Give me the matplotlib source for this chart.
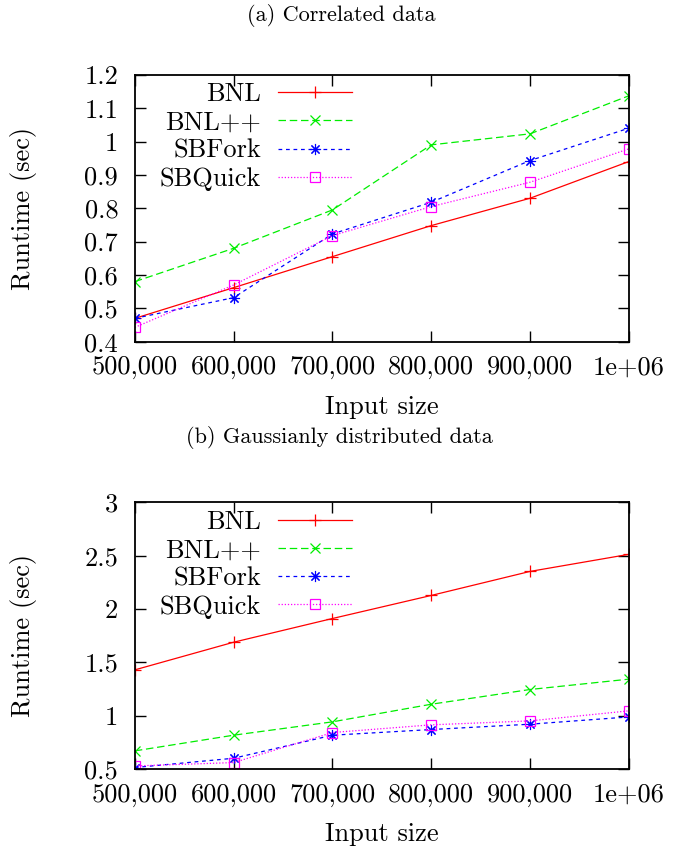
import matplotlib
matplotlib.use("Agg")
import matplotlib.pyplot as plt

plt.rcParams['font.family'] = ['cmr10', 'DejaVu Serif']
plt.rcParams['axes.unicode_minus'] = False

# input sizes and tick labels (shared by both panels)
sizes = [500000, 600000, 700000, 800000, 900000, 1000000]
size_labels = ["500,000", "600,000", "700,000", "800,000", "900,000", "1e+06"]

# (a) correlated data, runtime in seconds
corr_bnl = [0.47, 0.562, 0.655, 0.748, 0.83, 0.94]
corr_bnlpp = [0.58, 0.68, 0.795, 0.99, 1.023, 1.137]
corr_sbfork = [0.47, 0.532, 0.723, 0.818, 0.943, 1.04]
corr_sbquick = [0.443, 0.57, 0.718, 0.805, 0.878, 0.978]
corr_yticks = [0.4, 0.5, 0.6, 0.7, 0.8, 0.9, 1.0, 1.1, 1.2]
corr_ylabels = ["0.4", "0.5", "0.6", "0.7", "0.8", "0.9", "1", "1.1", "1.2"]

# (b) gaussianly distributed data
gauss_bnl = [1.431, 1.69, 1.912, 2.128, 2.353, 2.513]
gauss_bnlpp = [0.672, 0.819, 0.944, 1.109, 1.247, 1.344]
gauss_sbfork = [0.516, 0.603, 0.819, 0.872, 0.922, 0.99]
gauss_sbquick = [0.531, 0.5625, 0.844, 0.916, 0.953, 1.047]
gauss_yticks = [0.5, 1.0, 1.5, 2.0, 2.5, 3.0]
gauss_ylabels = ["0.5", "1", "1.5", "2", "2.5", "3"]

names = ["BNL", "BNL++", "SBFork", "SBQuick"]

styles = [
    dict(color="#ff0000", linestyle="-", marker="+", ms=9, mew=0.9),
    dict(color="#00ee00", linestyle=(0, (6, 3)), marker="x", ms=7, mew=0.9),
    dict(color="#0000ff", linestyle=(0, (3, 3)), marker=(8, 2, 0), ms=8, mew=0.8),
    dict(color="#ff00ff", linestyle=(0, (1, 1.5)), marker="s", ms=7, mew=0.9, mfc="none"),
]

fs = 19

fig = plt.figure(figsize=(6.88, 8.5), dpi=100)
ax1 = fig.add_axes([0.196, 0.598, 0.718, 0.314])
ax2 = fig.add_axes([0.196, 0.095, 0.718, 0.314])


def draw_panel(ax, series, yticks, ylabels, ylim):
    for name, ys, st in zip(names, series, styles):
        ax.plot(sizes, ys, lw=0.9, label=name, **st)
    ax.set_xlim(sizes[0], sizes[-1])
    ax.set_ylim(*ylim)
    ax.set_xticks(sizes)
    ax.set_xticklabels(size_labels)
    ax.set_yticks(yticks)
    ax.set_yticklabels(ylabels)
    ax.tick_params(direction="in", length=8, width=1.0, top=True, right=True,
                   labelsize=fs)
    ax.tick_params(axis="y", pad=12)
    ax.tick_params(axis="x", pad=10)
    for s in ax.spines.values():
        s.set_linewidth(1.3)
    ax.set_xlabel("Input size", fontsize=fs)
    ax.set_ylabel("Runtime (sec)", fontsize=fs)
    ax.xaxis.set_label_coords(0.5, -0.2)
    ax.yaxis.set_label_coords(-0.198, 0.5)
    ax.legend(loc="upper right", bbox_to_anchor=(0.455, 1.0), frameon=False,
              markerfirst=False, fontsize=fs, handlelength=2.8,
              handletextpad=0.64, labelspacing=0.17, borderaxespad=0.1,
              borderpad=0.2)


draw_panel(ax1, [corr_bnl, corr_bnlpp, corr_sbfork, corr_sbquick],
           corr_yticks, corr_ylabels, (0.4, 1.2))
draw_panel(ax2, [gauss_bnl, gauss_bnlpp, gauss_sbfork, gauss_sbquick],
           gauss_yticks, gauss_ylabels, (0.5, 3.0))

fig.text(0.496, 0.982, "(a) Correlated data", ha="center", va="center", fontsize=16)
fig.text(0.493, 0.485, "(b) Gaussianly distributed data", ha="center", va="center", fontsize=16)

fig.savefig("out.png", dpi=100)
